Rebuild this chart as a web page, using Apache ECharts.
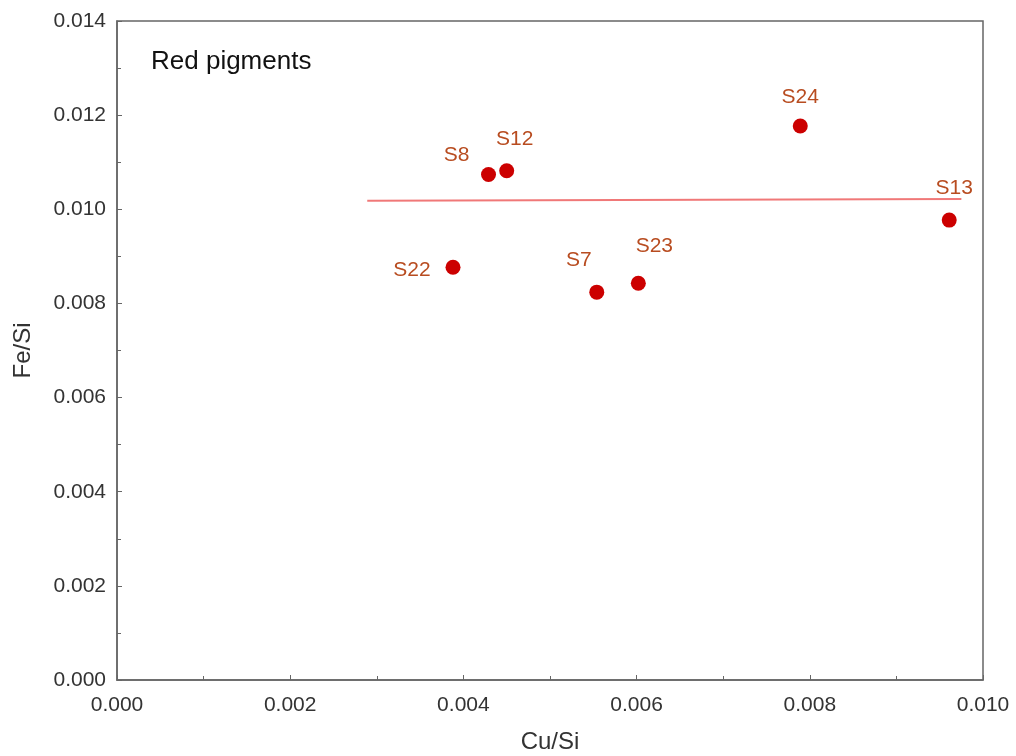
<!DOCTYPE html>
<html>
<head>
<meta charset="utf-8">
<script src="https://cdn.jsdelivr.net/npm/echarts@6/dist/echarts.min.js"></script>
<style>html,body{margin:0;padding:0;background:#fff}#c{width:1016px;height:756px}</style>
</head>
<body>
<div id="c"></div>
<script>
const sampleNames = ['S8', 'S12', 'S22', 'S7', 'S23', 'S24', 'S13'];
const cuSi = [0.00429, 0.00450, 0.00388, 0.00554, 0.00602, 0.00789, 0.00961];
const feSi = [0.01074, 0.01082, 0.00877, 0.00824, 0.00843, 0.01177, 0.00977];
const trendX = [0.00289, 0.00975];
const trendY = [0.01018, 0.01022];
const xTicks = [0.000, 0.002, 0.004, 0.006, 0.008, 0.010];
const yTicks = [0.000, 0.002, 0.004, 0.006, 0.008, 0.010, 0.012, 0.014];

// label placement (style only)
const labelOffsets = {
  S8: [-32, -19], S12: [8, -31], S22: [-41, 3], S7: [-18, -32],
  S23: [16, -37], S24: [0, -29], S13: [5, -32]
};

const points = sampleNames.map((n, i) => ({
  value: [cuSi[i], feSi[i]],
  name: n,
  label: { offset: labelOffsets[n] }
}));

const chart = echarts.init(document.getElementById('c'));
const fontFam = '"Liberation Sans", Arial, sans-serif';
const fmt = ticks => v => { const t = ticks.find(x => Math.abs(x - v) < 1e-9); return (t === undefined ? v : t).toFixed(3); };
chart.setOption({
  animation: false,
  title: {
    text: 'Red pigments', left: 146, top: 44,
    textStyle: { fontSize: 26, fontWeight: 'normal', color: '#111', fontFamily: fontFam }
  },
  grid: { left: 117, top: 21, right: 33, bottom: 76, show: true, borderColor: '#666', borderWidth: 1.5,
    outerBoundsMode: 'none', containLabel: false },
  xAxis: {
    type: 'value', min: 0, max: 0.010, interval: 0.002,
    name: 'Cu/Si', nameLocation: 'middle', nameGap: 50,
    nameTextStyle: { fontSize: 24, color: '#333', fontFamily: fontFam },
    axisLine: { show: true, lineStyle: { color: '#666', width: 1.5 } },
    axisTick: { show: true, inside: true, length: 5, lineStyle: { color: '#666' } },
    minorTick: { show: true, splitNumber: 2, length: 4, lineStyle: { color: '#666' } },
    splitLine: { show: false },
    axisLabel: { fontSize: 21, color: '#333', margin: 15, fontFamily: fontFam, formatter: fmt(xTicks) }
  },
  yAxis: {
    type: 'value', min: 0, max: 0.014, interval: 0.002,
    name: 'Fe/Si', nameLocation: 'middle', nameGap: 82, nameRotate: 90,
    nameTextStyle: { fontSize: 24, color: '#333', fontFamily: fontFam },
    axisLine: { show: true, lineStyle: { color: '#666', width: 1.5 } },
    axisTick: { show: true, inside: true, length: 5, lineStyle: { color: '#666' } },
    minorTick: { show: true, splitNumber: 2, length: 4, lineStyle: { color: '#666' } },
    splitLine: { show: false },
    axisLabel: { fontSize: 21, color: '#333', margin: 11, fontFamily: fontFam, formatter: fmt(yTicks) }
  },
  series: [
    {
      type: 'line',
      data: trendX.map((x, i) => [x, trendY[i]]),
      showSymbol: false, symbol: 'none',
      lineStyle: { color: '#f07878', width: 2 },
      z: 1
    },
    {
      type: 'scatter',
      data: points,
      symbolSize: 15,
      itemStyle: { color: '#cc0000', opacity: 1 },
      label: {
        show: true, position: 'inside', formatter: p => p.name,
        color: '#b84c20', fontSize: 21, fontFamily: fontFam
      },
      z: 3
    }
  ]
});
</script>
</body>
</html>
